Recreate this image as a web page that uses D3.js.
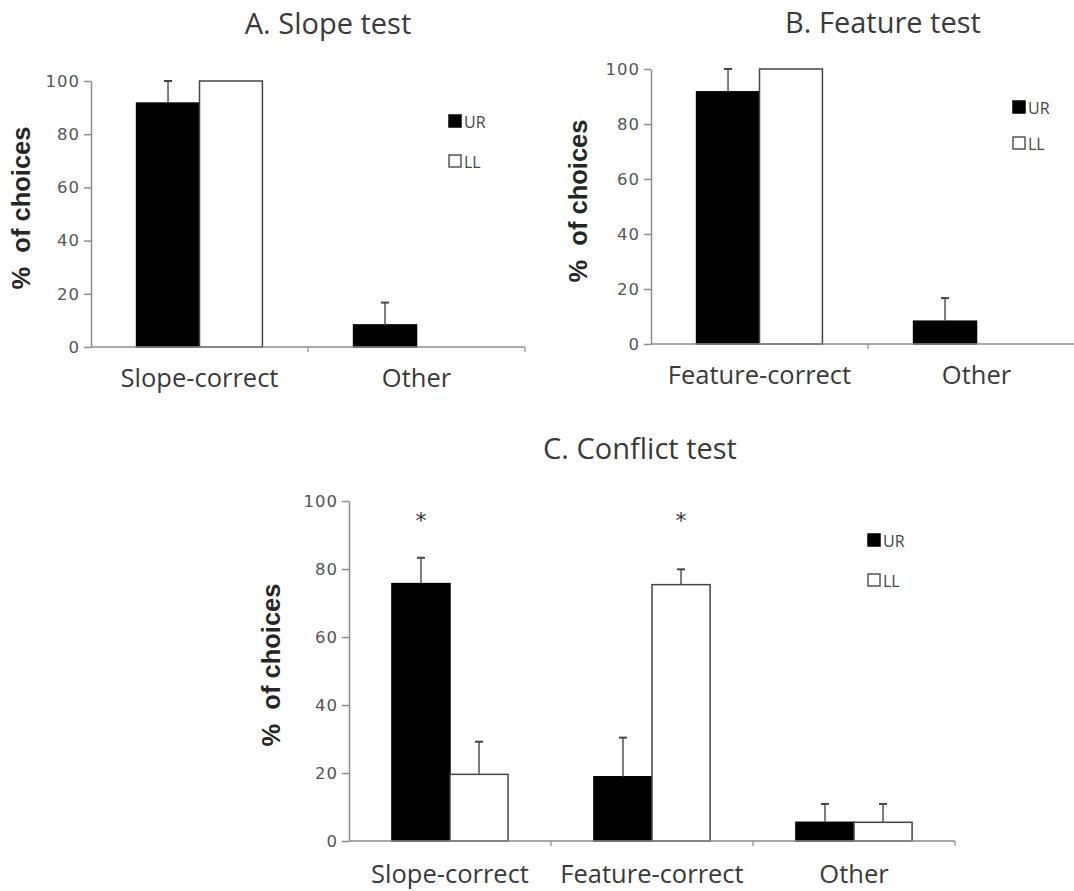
<!DOCTYPE html>
<html>
<head>
<meta charset="utf-8">
<script src="https://cdn.jsdelivr.net/npm/d3@7"></script>
<style>
  body { margin: 0; background: #fff; }
  svg text { font-family: "Open Sans", "Lato", sans-serif; }
</style>
</head>
<body>
<svg id="chart" width="1074" height="891"></svg>
<script>
/*************** data *****************/
var series = ["UR", "LL"];
var yTicks = [0, 20, 40, 60, 80, 100];

// A. Slope test
var catsA = ["Slope-correct", "Other"];
var urA = [91.7, 8.3], urErrA = [8.3, 8.4];
var llA = [100, 0], llErrA = [0, 0];

// B. Feature test
var catsB = ["Feature-correct", "Other"];
var urB = [91.7, 8.3], urErrB = [8.3, 8.4];
var llB = [100, 0], llErrB = [0, 0];

// C. Conflict test
var catsC = ["Slope-correct", "Feature-correct", "Other"];
var urC = [75.7, 18.9, 5.5], urErrC = [7.6, 11.5, 5.4];
var llC = [19.6, 75.4, 5.5], llErrC = [9.6, 4.5, 5.4];
var starsC = ["UR", "LL", null]; // which bar carries the asterisk
/*************** end data *****************/

var svg = d3.select("#chart");

function panel(opt) {
	var g = svg.append("g");

	var x = d3.scaleBand()
		.domain(opt.cats)
		.range([opt.left, opt.right])
		.padding(0);
	var bw = x.bandwidth();
	var gap = bw * (1 - opt.groupFrac) / 2;
	var xs = d3.scaleBand()
		.domain(series)
		.range([gap, bw - gap]);

	var y = d3.scaleLinear()
		.domain([0, 100])
		.range([opt.bottom, opt.top]);

	// rows of data
	var rows = [];
	opt.cats.forEach(function(c, i) {
		rows.push({cat: c, s: "UR", v: opt.ur[i], e: opt.urErr[i]});
		rows.push({cat: c, s: "LL", v: opt.ll[i], e: opt.llErr[i]});
	});

	// title
	g.append("text")
		.attr("x", opt.titleX).attr("y", opt.titleY)
		.attr("text-anchor", "middle")
		.style("font-size", "29px")
		.attr("fill", "#3a3a3a")
		.text(opt.title);

	// y axis
	var yAxis = g.append("g")
		.attr("transform", "translate(" + opt.left + ",0)")
		.call(d3.axisLeft(y).tickValues(yTicks).tickSize(7).tickPadding(4).tickSizeOuter(0));
	yAxis.select(".domain").attr("stroke", "#8c8c8c").attr("stroke-width", 1.5);
	yAxis.selectAll(".tick line").attr("stroke", "#8c8c8c").attr("stroke-width", 1.5);
	yAxis.selectAll(".tick text")
		.style("font-family", "DejaVu Sans")
		.style("font-size", "16.5px")
		.style("letter-spacing", "1px")
		.attr("fill", "#555");

	// y label
	g.append("text")
		.attr("transform", "translate(" + opt.ylabX + "," + opt.ylabY + ") rotate(-90)")
		.attr("text-anchor", "middle")
		.style("font-family", "Liberation Sans")
		.style("font-weight", "bold")
		.style("font-size", "25.5px")
		.attr("fill", "#262626")
		.attr("xml:space", "preserve")
		.text("%  of choices");

	// bars
	g.selectAll("rect.bar")
		.data(rows.filter(function(d) { return d.v > 0; }))
		.enter().append("rect")
		.attr("class", "bar")
		.attr("x", function(d) { return x(d.cat) + xs(d.s); })
		.attr("width", xs.bandwidth())
		.attr("y", function(d) { return y(d.v); })
		.attr("height", function(d) { return y(0) - y(d.v); })
		.attr("fill", function(d) { return d.s == "UR" ? "#000" : "#fff"; })
		.attr("stroke", function(d) { return d.s == "UR" ? "#000" : "#444"; })
		.attr("stroke-width", 1.5);

	// error bars (upper only)
	var err = g.selectAll("g.err")
		.data(rows.filter(function(d) { return d.e > 0; }))
		.enter().append("g")
		.attr("class", "err");
	err.append("line")
		.attr("x1", function(d) { return x(d.cat) + xs(d.s) + xs.bandwidth() / 2; })
		.attr("x2", function(d) { return x(d.cat) + xs(d.s) + xs.bandwidth() / 2; })
		.attr("y1", function(d) { return y(d.v); })
		.attr("y2", function(d) { return y(d.v + d.e); })
		.attr("stroke", "#555").attr("stroke-width", 1.5);
	err.append("line")
		.attr("x1", function(d) { return x(d.cat) + xs(d.s) + xs.bandwidth() / 2 - 4; })
		.attr("x2", function(d) { return x(d.cat) + xs(d.s) + xs.bandwidth() / 2 + 4; })
		.attr("y1", function(d) { return y(d.v + d.e); })
		.attr("y2", function(d) { return y(d.v + d.e); })
		.attr("stroke", "#444").attr("stroke-width", 2);

	// x axis: line plus ticks at category boundaries
	g.append("line")
		.attr("x1", opt.left).attr("x2", opt.right)
		.attr("y1", y(0)).attr("y2", y(0))
		.attr("stroke", "#8c8c8c").attr("stroke-width", 1.5);
	g.selectAll("line.xtick")
		.data(opt.cats)
		.enter().append("line")
		.attr("class", "xtick")
		.attr("x1", function(d) { return x(d) + bw; })
		.attr("x2", function(d) { return x(d) + bw; })
		.attr("y1", y(0)).attr("y2", y(0) + 5)
		.attr("stroke", "#8c8c8c").attr("stroke-width", 1.2);
	g.selectAll("text.xlab")
		.data(opt.cats)
		.enter().append("text")
		.attr("class", "xlab")
		.attr("x", function(d) { return x(d) + bw / 2; })
		.attr("y", y(0) + opt.xlabDy)
		.attr("text-anchor", "middle")
		.style("font-size", "25.5px")
		.attr("fill", "#3a3a3a")
		.text(function(d) { return d; });

	// asterisks
	if (opt.stars) {
		g.selectAll("text.star")
			.data(opt.cats.map(function(c, i) { return {cat: c, s: opt.stars[i]}; })
				.filter(function(d) { return d.s; }))
			.enter().append("text")
			.attr("class", "star")
			.attr("x", function(d) { return x(d.cat) + xs(d.s) + xs.bandwidth() / 2; })
			.attr("y", y(opt.starY))
			.attr("text-anchor", "middle")
			.style("font-family", "DejaVu Sans")
			.style("font-size", "22px")
			.attr("fill", "#333")
			.text("*");
	}

	// legend
	var leg = g.selectAll("g.leg")
		.data(series)
		.enter().append("g")
		.attr("class", "leg")
		.attr("transform", function(d, i) { return "translate(" + opt.legX + "," + (opt.legY + i * opt.legStep) + ")"; });
	leg.append("rect")
		.attr("width", 12).attr("height", 12)
		.attr("fill", function(d) { return d == "UR" ? "#000" : "#fff"; })
		.attr("stroke", function(d) { return d == "UR" ? "#000" : "#555"; })
		.attr("stroke-width", 1.5);
	leg.append("text")
		.attr("x", 15).attr("y", 12.5)
		.style("font-size", "16px")
		.attr("fill", "#444")
		.text(function(d) { return d; });
}

panel({
	title: "A. Slope test", titleX: 328, titleY: 34,
	cats: catsA, ur: urA, urErr: urErrA, ll: llA, llErr: llErrA,
	left: 91, right: 525, top: 81, bottom: 347, groupFrac: 0.58,
	ylabX: 30, ylabY: 208, xlabDy: 40,
	legX: 449, legY: 115, legStep: 40
});

panel({
	title: "B. Feature test", titleX: 883, titleY: 33,
	cats: catsB, ur: urB, urErr: urErrB, ll: llB, llErr: llErrB,
	left: 651, right: 1085, top: 69, bottom: 344, groupFrac: 0.58,
	ylabX: 587, ylabY: 201, xlabDy: 40,
	legX: 1013, legY: 101, legStep: 36
});

panel({
	title: "C. Conflict test", titleX: 640, titleY: 459,
	cats: catsC, ur: urC, urErr: urErrC, ll: llC, llErr: llErrC,
	left: 349, right: 955, top: 501, bottom: 841, groupFrac: 0.575,
	ylabX: 280, ylabY: 665, xlabDy: 42,
	legX: 868, legY: 534, legStep: 40,
	stars: starsC, starY: 92
});
</script>
</body>
</html>
